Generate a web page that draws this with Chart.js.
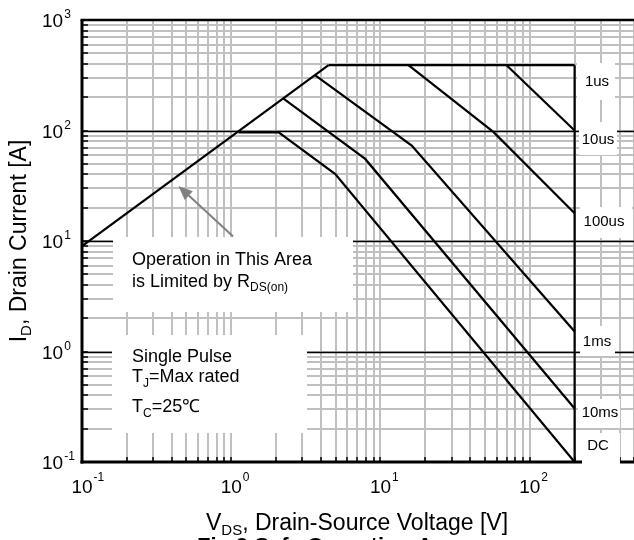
<!DOCTYPE html>
<html>
<head>
<meta charset="utf-8">
<script src="https://cdn.jsdelivr.net/npm/chart.js@4/dist/chart.umd.min.js"></script>
<style>
html,body{margin:0;padding:0;background:#fff;}
#wrap{width:634px;height:540px;position:relative;}
</style>
</head>
<body>
<div id="wrap"><canvas id="c" width="634" height="540"></canvas></div>
<script>
// ---- data ----
const rdsV   = [0.1, 4.49];
const rdsI   = [9.0, 390];
const us1V   = [4.49, 200];
const us1I   = [390, 390];
const us10V  = [70, 200];
const us10I  = [390, 100];
const us100V = [15.4, 57.3, 200];
const us100I = [390, 96.6, 17.8];
const ms1V   = [3.66, 16.2, 200];
const ms1I   = [316, 73, 1.52];
const ms10V  = [2.24, 7.9, 200];
const ms10I  = [194, 55.3, 0.305];
const dcV    = [1.12, 2.08, 4.98, 200];
const dcI    = [96, 96, 40.4, 0.1];
const vmaxV  = [200, 200];
const vmaxI  = [390, 0.1];
const curveLabels = ['1us', '10us', '100us', '1ms', '10ms', 'DC'];
const xDecades = [0.1, 1, 10, 100];
const xExps    = ['-1', '0', '1', '2'];
const yDecades = [0.1, 1, 10, 100, 1000];
const yExps    = ['-1', '0', '1', '2', '3'];
const arrowTail = [1.03, 11.0];
const arrowTip  = [0.443, 31.4];

function pts(xs, ys){ return xs.map((x,i)=>({x:x, y:ys[i]})); }
const seriesList = [
  pts(rdsV, rdsI), pts(us1V, us1I), pts(us10V, us10I), pts(us100V, us100I),
  pts(ms1V, ms1I), pts(ms10V, ms10I), pts(dcV, dcI), pts(vmaxV, vmaxI)
];
const seriesNames = ['RDS(on)', '1us', '10us', '100us', '1ms', '10ms', 'DC', 'Vmax'];

const FONT = '"Liberation Sans", Arial, Helvetica, sans-serif';

function gridValues(min, max){
  const out = [];
  for (let e = -2; e <= 4; e++){
    for (let m = 1; m <= 9; m++){
      const v = m * Math.pow(10, e);
      if (v >= min*0.999 && v <= max*1.001) out.push(v);
    }
  }
  return out;
}

// draw segments of rich text: [{t, size, dy, bold}]
function richWidth(ctx, segs){
  let w = 0;
  segs.forEach(s=>{ ctx.font = (s.bold?'bold ':'') + s.size + 'px ' + FONT; w += ctx.measureText(s.t).width; });
  return w;
}
function drawRich(ctx, segs, x, y, align){
  const w = richWidth(ctx, segs);
  let cx = align === 'center' ? x - w/2 : (align === 'right' ? x - w : x);
  ctx.textAlign = 'left';
  ctx.textBaseline = 'alphabetic';
  segs.forEach(s=>{
    ctx.font = (s.bold?'bold ':'') + s.size + 'px ' + FONT;
    ctx.fillText(s.t, cx, y + (s.dy||0));
    cx += ctx.measureText(s.t).width;
  });
}

const decor = {
  id: 'decor',
  beforeDatasetsDraw(chart){
    const ctx = chart.ctx, a = chart.chartArea;
    const xs = chart.scales.x, ys = chart.scales.y;
    ctx.save();
    ctx.fillStyle = '#fff';
    ctx.fillRect(a.left, a.top, a.right - a.left, a.bottom - a.top);
    // gray grid
    ctx.strokeStyle = '#c0c0c0';
    ctx.lineWidth = 2;
    gridValues(xs.min, xs.max).forEach(v=>{
      const px = Math.round(xs.getPixelForValue(v));
      ctx.beginPath(); ctx.moveTo(px, a.top); ctx.lineTo(px, a.bottom); ctx.stroke();
    });
    gridValues(ys.min, ys.max).forEach(v=>{
      const py = Math.round(ys.getPixelForValue(v));
      ctx.beginPath(); ctx.moveTo(a.left, py); ctx.lineTo(a.right, py); ctx.stroke();
    });
    // black decade lines (y)
    ctx.strokeStyle = '#000';
    ctx.lineWidth = 1.6;
    [1, 10, 100].forEach(v=>{
      const py = Math.round(ys.getPixelForValue(v)) + 0.5;
      ctx.beginPath(); ctx.moveTo(a.left, py); ctx.lineTo(a.right, py); ctx.stroke();
    });
    // inner tick stubs
    ctx.lineWidth = 1.5;
    gridValues(xs.min, xs.max).forEach(v=>{
      const px = Math.round(xs.getPixelForValue(v));
      ctx.beginPath(); ctx.moveTo(px, a.bottom); ctx.lineTo(px, a.bottom - 5); ctx.stroke();
    });
    gridValues(ys.min, ys.max).forEach(v=>{
      const py = Math.round(ys.getPixelForValue(v));
      ctx.beginPath(); ctx.moveTo(a.left, py); ctx.lineTo(a.left + 6, py); ctx.stroke();
    });
    // borders
    ctx.lineWidth = 3;
    ctx.beginPath(); ctx.moveTo(a.left, a.top); ctx.lineTo(a.left, a.bottom + 1.5); ctx.stroke();
    ctx.beginPath(); ctx.moveTo(a.left - 1.5, a.bottom); ctx.lineTo(a.right, a.bottom); ctx.stroke();
    ctx.lineWidth = 2.5;
    ctx.beginPath(); ctx.moveTo(a.left - 1.5, a.top); ctx.lineTo(a.right, a.top); ctx.stroke();
    // white annotation boxes
    ctx.fillStyle = '#fff';
    ctx.fillRect(113, 237, 240, 75);
    ctx.fillRect(112, 335, 195, 98);
    const rb = [[577,63,38,37],[579,122,38,33],[580,207,52,31],[580,326,35,30],[578,399,42,29],[582,433,38,33]];
    rb.forEach(r=>ctx.fillRect(r[0], r[1], r[2], r[3]));
    ctx.restore();
  },
  afterDraw(chart){
    const ctx = chart.ctx, a = chart.chartArea;
    const xs = chart.scales.x, ys = chart.scales.y;
    ctx.save();
    ctx.fillStyle = '#000';
    // x tick labels
    xDecades.forEach((v,i)=>{
      const px = xs.getPixelForValue(v);
      ctx.font = '19px ' + FONT; ctx.textAlign = 'center'; ctx.textBaseline = 'alphabetic';
      ctx.fillText('10', px, 493);
      const w = ctx.measureText('10').width;
      ctx.font = '12px ' + FONT; ctx.textAlign = 'left';
      ctx.fillText(xExps[i], px + w/2 + 1, 481);
    });
    // y tick labels
    yDecades.forEach((v,i)=>{
      const py = ys.getPixelForValue(v);
      ctx.font = '19px ' + FONT; ctx.textAlign = 'left'; ctx.textBaseline = 'alphabetic';
      ctx.fillText('10', 42, py + 7);
      const w = ctx.measureText('10').width;
      ctx.font = '12px ' + FONT;
      ctx.fillText(yExps[i], 42 + w + 1, py - 2);
    });
    // axis titles
    drawRich(ctx, [{t:'V', size:23}, {t:'DS', size:15, dy:5}, {t:', Drain-Source Voltage [V]', size:23}], 357, 530, 'center');
    ctx.save();
    ctx.translate(26, 241);
    ctx.rotate(-Math.PI/2);
    drawRich(ctx, [{t:'I', size:23}, {t:'D', size:15, dy:5}, {t:', Drain Current [A]', size:23}], 0, 0, 'center');
    ctx.restore();
    // figure caption (cut by the canvas bottom)
    drawRich(ctx, [{t:'Fig.9 Safe Operation Area', size:22, bold:true}], 197, 553, 'left');
    // annotation texts
    drawRich(ctx, [{t:'Operation in This Area', size:18}], 132, 265, 'left');
    drawRich(ctx, [{t:'is Limited by R', size:18}, {t:'DS(on)', size:12, dy:4}], 132, 287, 'left');
    drawRich(ctx, [{t:'Single Pulse', size:18}], 132, 362, 'left');
    drawRich(ctx, [{t:'T', size:18}, {t:'J', size:12, dy:5}, {t:'=Max rated', size:18}], 132, 382, 'left');
    drawRich(ctx, [{t:'T', size:18}, {t:'C', size:12, dy:5}, {t:'=25\u2103', size:18}], 132, 412, 'left');
    // curve labels
    const lp = [[597,82],[598,140],[604,222],[597,342],[600,413],[598,446]];
    ctx.font = '15px ' + FONT; ctx.textAlign = 'center'; ctx.textBaseline = 'middle';
    curveLabels.forEach((t,i)=> ctx.fillText(t, lp[i][0], lp[i][1]));
    // arrow
    const tx = xs.getPixelForValue(arrowTail[0]), ty = ys.getPixelForValue(arrowTail[1]);
    const hx = xs.getPixelForValue(arrowTip[0]), hy = ys.getPixelForValue(arrowTip[1]);
    const ang = Math.atan2(hy - ty, hx - tx);
    const hl = 14, hw = 6;
    const bx = hx - hl*Math.cos(ang), by = hy - hl*Math.sin(ang);
    ctx.strokeStyle = '#808080'; ctx.fillStyle = '#808080'; ctx.lineWidth = 2;
    ctx.beginPath(); ctx.moveTo(tx, ty); ctx.lineTo(bx, by); ctx.stroke();
    ctx.beginPath();
    ctx.moveTo(hx, hy);
    ctx.lineTo(bx + hw*Math.sin(ang), by - hw*Math.cos(ang));
    ctx.lineTo(bx - hw*Math.sin(ang), by + hw*Math.cos(ang));
    ctx.closePath(); ctx.fill();
    ctx.restore();
  }
};

new Chart(document.getElementById('c'), {
  type: 'scatter',
  data: {
    datasets: seriesList.map((d,i)=>({
      label: seriesNames[i],
      data: d,
      showLine: true,
      borderColor: '#000',
      backgroundColor: '#000',
      borderWidth: 2.2,
      pointRadius: 0,
      tension: 0,
      fill: false
    }))
  },
  options: {
    responsive: false,
    animation: false,
    devicePixelRatio: 1,
    layout: { padding: { left: 82, right: 0, top: 20, bottom: 78 } },
    plugins: { legend: { display: false }, tooltip: { enabled: false } },
    scales: {
      x: { type: 'logarithmic', min: 0.1, max: 500, display: false },
      y: { type: 'logarithmic', min: 0.1, max: 1000, display: false }
    }
  },
  plugins: [decor]
});
</script>
</body>
</html>
